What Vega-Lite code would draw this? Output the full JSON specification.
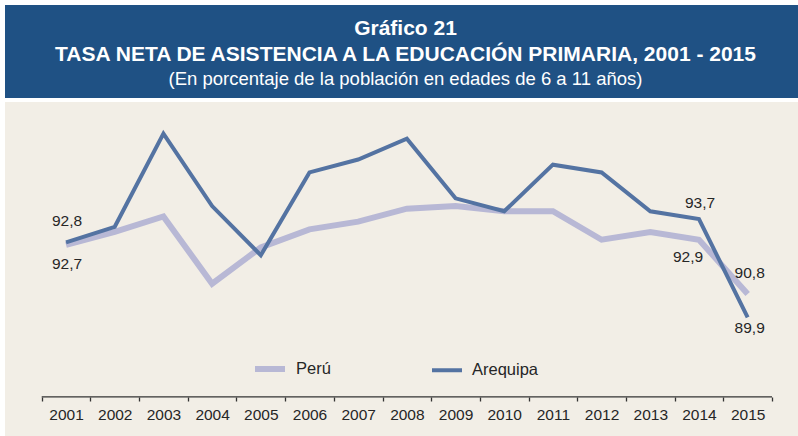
{
  "$schema": "https://vega.github.io/schema/vega-lite/v6.json",
  "background": "white",
  "padding": {"left": 5, "top": 5, "right": 0, "bottom": 0},
  "config": {
    "locale": {"number": {"decimal": ",", "thousands": ".", "grouping": [3], "currency": ["", " €"]}},
    "font": "Liberation Sans",
    "view": {"stroke": null}
  },
  "spacing": 4,
  "vconcat": [
    {
      "width": 793,
      "height": 93,
      "view": {"fill": "#1f5184", "stroke": null},
      "layer": [
        {
          "data": {"values": [{"t": "Gráfico 21"}]},
          "mark": {"type": "text", "font": "Liberation Sans", "fontWeight": "bold", "fontSize": 21, "fill": "white", "baseline": "alphabetic", "dx": 4, "dy": -16.5},
          "encoding": {"text": {"field": "t"}}
        },
        {
          "data": {"values": [{"t": "TASA NETA DE ASISTENCIA A LA EDUCACIÓN PRIMARIA, 2001 - 2015"}]},
          "mark": {"type": "text", "font": "Liberation Sans", "fontWeight": "bold", "fontSize": 21, "fill": "white", "baseline": "alphabetic", "dx": 4, "dy": 9.5},
          "encoding": {"text": {"field": "t"}}
        },
        {
          "data": {"values": [{"t": "(En porcentaje de la población en edades de 6 a 11 años)"}]},
          "mark": {"type": "text", "font": "Liberation Sans", "fontSize": 18.5, "fill": "white", "baseline": "alphabetic", "dx": 4, "dy": 33.5},
          "encoding": {"text": {"field": "t"}}
        }
      ]
    },
    {
      "width": 793,
      "height": 334,
      "view": {"fill": "#f2eee6", "stroke": null},
      "data": {"values": [
        {"anio": 2001, "serie": "Perú", "valor": 92.7},
        {"anio": 2002, "serie": "Perú", "valor": 93.2},
        {"anio": 2003, "serie": "Perú", "valor": 93.8},
        {"anio": 2004, "serie": "Perú", "valor": 91.2},
        {"anio": 2005, "serie": "Perú", "valor": 92.6},
        {"anio": 2006, "serie": "Perú", "valor": 93.3},
        {"anio": 2007, "serie": "Perú", "valor": 93.6},
        {"anio": 2008, "serie": "Perú", "valor": 94.1},
        {"anio": 2009, "serie": "Perú", "valor": 94.2},
        {"anio": 2010, "serie": "Perú", "valor": 94.0},
        {"anio": 2011, "serie": "Perú", "valor": 94.0},
        {"anio": 2012, "serie": "Perú", "valor": 92.9},
        {"anio": 2013, "serie": "Perú", "valor": 93.2},
        {"anio": 2014, "serie": "Perú", "valor": 92.9},
        {"anio": 2015, "serie": "Perú", "valor": 90.8},
        {"anio": 2001, "serie": "Arequipa", "valor": 92.8},
        {"anio": 2002, "serie": "Arequipa", "valor": 93.4},
        {"anio": 2003, "serie": "Arequipa", "valor": 97.0},
        {"anio": 2004, "serie": "Arequipa", "valor": 94.2},
        {"anio": 2005, "serie": "Arequipa", "valor": 92.3},
        {"anio": 2006, "serie": "Arequipa", "valor": 95.5},
        {"anio": 2007, "serie": "Arequipa", "valor": 96.0},
        {"anio": 2008, "serie": "Arequipa", "valor": 96.8},
        {"anio": 2009, "serie": "Arequipa", "valor": 94.5},
        {"anio": 2010, "serie": "Arequipa", "valor": 94.0},
        {"anio": 2011, "serie": "Arequipa", "valor": 95.8},
        {"anio": 2012, "serie": "Arequipa", "valor": 95.5},
        {"anio": 2013, "serie": "Arequipa", "valor": 94.0},
        {"anio": 2014, "serie": "Arequipa", "valor": 93.7},
        {"anio": 2015, "serie": "Arequipa", "valor": 89.9}
      ]},
      "layer": [
        {
          "mark": {"type": "line", "strokeJoin": "miter"},
          "encoding": {
            "x": {
              "field": "anio", "type": "quantitative",
              "scale": {"domain": [1999.746, 2016.034], "nice": false, "zero": false},
              "axis": {
                "values": [2000.5, 2001.5, 2002.5, 2003.5, 2004.5, 2005.5, 2006.5, 2007.5, 2008.5, 2009.5, 2010.5, 2011.5, 2012.5, 2013.5, 2014.5, 2015.5],
                "domain": false, "grid": false, "title": null,
                "ticks": true, "tickSize": 4, "tickColor": "#333333", "tickWidth": 1.3,
                "labelExpr": "datum.value < 2015 ? format(datum.value + 0.5, 'd') : ''",
                "labelOffset": 24.35, "labelPadding": 6, "labelFontSize": 15.5, "labelColor": "#262626",
                "labelFont": "Liberation Sans",
                "labelFlush": false, "labelOverlap": false, "labelBound": false,
                "offset": -39
              }
            },
            "y": {"field": "valor", "type": "quantitative", "scale": {"domain": [85.32, 98.22], "zero": false, "nice": false}, "axis": null},
            "color": {
              "field": "serie", "type": "nominal",
              "scale": {"domain": ["Perú", "Arequipa"], "range": ["#b8b8d5", "#5473a2"]},
              "legend": {"orient": "none", "legendX": 247, "legendY": 346, "direction": "horizontal", "title": null, "symbolType": "stroke", "symbolSize": 900, "labelFontSize": 16.5, "labelColor": "#262626", "labelFont": "Liberation Sans", "labelOffset": 8, "columnPadding": 93}
            },
            "strokeWidth": {
              "field": "serie", "type": "nominal",
              "scale": {"domain": ["Perú", "Arequipa"], "range": [6, 4]},
              "legend": {"orient": "none", "legendX": 247, "legendY": 346, "direction": "horizontal", "title": null, "symbolType": "stroke", "symbolSize": 900, "labelFontSize": 16.5, "labelColor": "#262626", "labelFont": "Liberation Sans", "labelOffset": 8, "columnPadding": 93}
            }
          }
        },
        {
          "data": {"values": [{}]},
          "mark": {"type": "rule", "color": "#333333", "strokeWidth": 1.3},
          "encoding": {
            "x": {"datum": 2000.5, "type": "quantitative"},
            "x2": {"datum": 2015.5},
            "y": {"datum": 86.83, "type": "quantitative"}
          }
        },
        {
          "transform": [{"filter": "datum.serie == 'Arequipa' && datum.anio == 2001"}],
          "mark": {"type": "text", "fontSize": 15.5, "fill": "#262626", "baseline": "middle", "dx": 1, "dy": -21},
          "encoding": {"x": {"field": "anio", "type": "quantitative"}, "y": {"field": "valor", "type": "quantitative"}, "text": {"field": "valor", "type": "quantitative", "format": ".1f"}}
        },
        {
          "transform": [{"filter": "datum.serie == 'Perú' && datum.anio == 2001"}],
          "mark": {"type": "text", "fontSize": 15.5, "fill": "#262626", "baseline": "middle", "dx": 1, "dy": 19},
          "encoding": {"x": {"field": "anio", "type": "quantitative"}, "y": {"field": "valor", "type": "quantitative"}, "text": {"field": "valor", "type": "quantitative", "format": ".1f"}}
        },
        {
          "transform": [{"filter": "datum.serie == 'Arequipa' && datum.anio == 2014"}],
          "mark": {"type": "text", "fontSize": 15.5, "fill": "#262626", "baseline": "middle", "dx": 1, "dy": -16},
          "encoding": {"x": {"field": "anio", "type": "quantitative"}, "y": {"field": "valor", "type": "quantitative"}, "text": {"field": "valor", "type": "quantitative", "format": ".1f"}}
        },
        {
          "transform": [{"filter": "datum.serie == 'Perú' && datum.anio == 2014"}],
          "mark": {"type": "text", "fontSize": 15.5, "fill": "#262626", "baseline": "middle", "dx": -11, "dy": 17},
          "encoding": {"x": {"field": "anio", "type": "quantitative"}, "y": {"field": "valor", "type": "quantitative"}, "text": {"field": "valor", "type": "quantitative", "format": ".1f"}}
        },
        {
          "transform": [{"filter": "datum.serie == 'Perú' && datum.anio == 2015"}],
          "mark": {"type": "text", "fontSize": 15.5, "fill": "#262626", "baseline": "middle", "dx": 2, "dy": -21},
          "encoding": {"x": {"field": "anio", "type": "quantitative"}, "y": {"field": "valor", "type": "quantitative"}, "text": {"field": "valor", "type": "quantitative", "format": ".1f"}}
        },
        {
          "transform": [{"filter": "datum.serie == 'Arequipa' && datum.anio == 2015"}],
          "mark": {"type": "text", "fontSize": 15.5, "fill": "#262626", "baseline": "middle", "dx": 2, "dy": 11},
          "encoding": {"x": {"field": "anio", "type": "quantitative"}, "y": {"field": "valor", "type": "quantitative"}, "text": {"field": "valor", "type": "quantitative", "format": ".1f"}}
        }
      ]
    }
  ]
}
